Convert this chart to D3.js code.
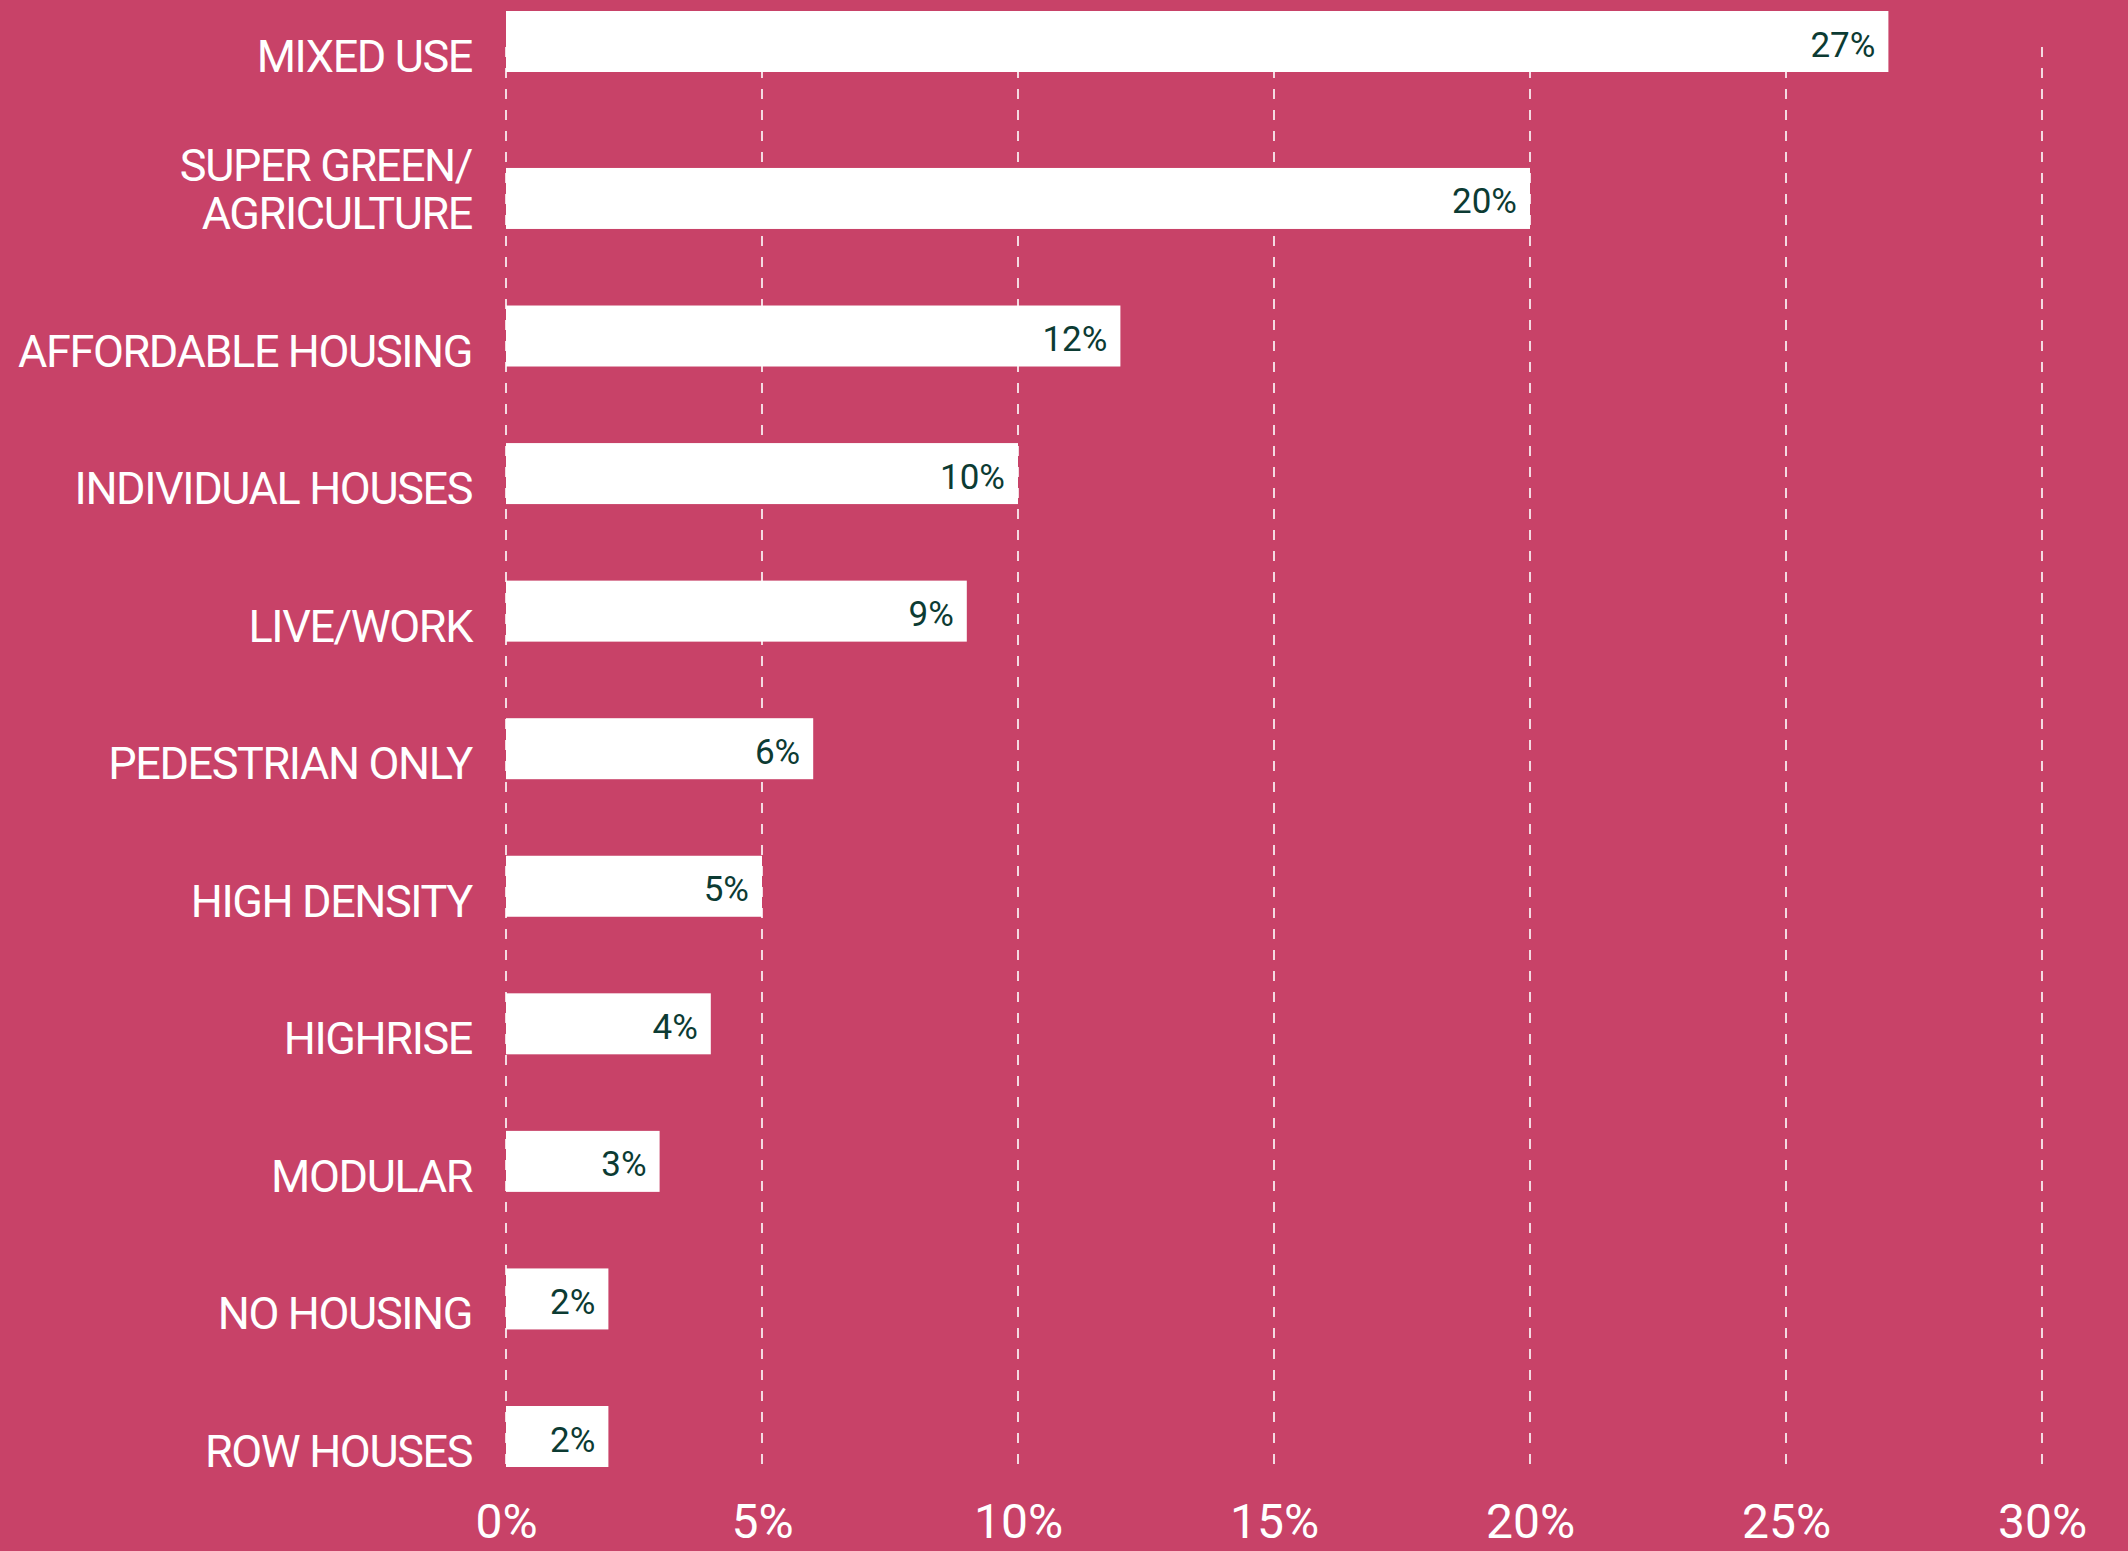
<!DOCTYPE html>
<meta charset="utf-8">
<head>
  <title>Preferred development types</title>
</head>

<style>
  body {
    margin: 0;
    background: #c84268;
    font-family: Roboto, "Noto Sans", sans-serif;
  }
  .cat-label {
    fill: #fff;
    font-size: 45px;
    letter-spacing: -1.4px;
  }
  .value-label {
    fill: #0c3b33;
    font-size: 35px;
  }
  .x-axis text {
    fill: #fff;
    font-size: 48px;
    font-family: Roboto, sans-serif;
  }
</style>

<body>
<svg width="2128" height="1551">
  <g id="grid"></g>
  <g id="bars"></g>
  <g id="labels"></g>
  <g id="axis" class="x-axis"></g>
</svg>

<script src="https://cdnjs.cloudflare.com/ajax/libs/d3/7.8.5/d3.min.js"></script>
<script>
  var categories = [
    ["MIXED USE"],
    ["SUPER GREEN/", "AGRICULTURE"],
    ["AFFORDABLE HOUSING"],
    ["INDIVIDUAL HOUSES"],
    ["LIVE/WORK"],
    ["PEDESTRIAN ONLY"],
    ["HIGH DENSITY"],
    ["HIGHRISE"],
    ["MODULAR"],
    ["NO HOUSING"],
    ["ROW HOUSES"]
  ];
  var values = [27, 20, 12, 10, 9, 6, 5, 4, 3, 2, 2];
  var tickValues = [0, 5, 10, 15, 20, 25, 30];

  // rows with a wrapped label get a little extra room above them
  var extraPerLine = 0.141;
  var slot = 0;
  var rows = categories.map(function(c, i) {
    if (i > 0) slot += 1;
    slot += extraPerLine * (c.length - 1);
    return { key: c.join(" "), lines: c, value: values[i], slot: slot };
  });

  var x = d3.scaleLinear()
    .domain([0, 30])
    .range([506, 2042]);

  var y = d3.scaleLinear()
    .domain([0, rows[rows.length - 1].slot])
    .range([11, 1406]);

  var barHeight = 61;

  // dashed gridlines
  d3.select('#grid')
    .selectAll('line')
    .data(tickValues)
    .enter()
    .append('line')
    .attr('x1', function(d) { return x(d); })
    .attr('x2', function(d) { return x(d); })
    .attr('y1', 47)
    .attr('y2', 1467)
    .attr('stroke', '#fff')
    .attr('stroke-width', 1.6)
    .attr('stroke-dasharray', '10,11');

  d3.select('#bars')
    .selectAll('rect')
    .data(rows)
    .enter()
    .append('rect')
    .attr('x', x(0))
    .attr('y', function(d) { return y(d.slot); })
    .attr('width', function(d) { return x(d.value) - x(0); })
    .attr('height', barHeight)
    .attr('fill', '#fff');

  d3.select('#bars')
    .selectAll('text')
    .data(rows)
    .enter()
    .append('text')
    .attr('class', 'value-label')
    .attr('x', function(d) { return x(d.value) - 13; })
    .attr('y', function(d) { return y(d.slot) + barHeight / 2 + 15; })
    .attr('text-anchor', 'end')
    .text(function(d) { return d.value + '%'; });

  // category labels, bottom aligned to the bar
  var label = d3.select('#labels')
    .selectAll('text')
    .data(rows)
    .enter()
    .append('text')
    .attr('class', 'cat-label')
    .attr('text-anchor', 'end')
    .attr('transform', function(d) {
      return 'translate(472,' + (y(d.slot) + barHeight) + ')';
    });

  label.selectAll('tspan')
    .data(function(d) {
      return d.lines.map(function(l, i) { return { text: l, offset: (i - d.lines.length + 1) * 48 }; });
    })
    .enter()
    .append('tspan')
    .attr('x', 0)
    .attr('y', function(d) { return d.offset; })
    .text(function(d) { return d.text; });

  var xAxis = d3.axisBottom(x)
    .tickValues(tickValues)
    .tickSize(0)
    .tickPadding(0)
    .tickFormat(function(d) { return d + '%'; });

  d3.select('#axis')
    .attr('transform', 'translate(0,1503)')
    .call(xAxis)
    .call(function(g) { g.select('.domain').remove(); })
    .selectAll('text')
    .attr('dy', '0.72em');
</script>
</body>
</html>
